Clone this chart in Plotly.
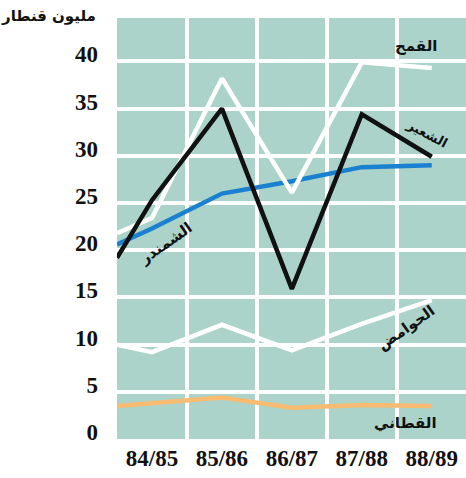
import plotly.graph_objects as go

categories = ["84/85", "85/86", "86/87", "87/88", "88/89"]
# first value in each series = value where the line enters at the left edge
wheat = [21.8, 23.4, 38.2, 26.1, 39.9, 39.3]
barley = [19.2, 25.3, 35.0, 15.9, 34.4, 29.9]
beet = [20.6, 22.3, 26.0, 27.3, 28.8, 29.0]
citrus = [10.0, 9.2, 12.1, 9.4, 12.2, 14.7]
pulses = [3.5, 3.8, 4.4, 3.3, 3.6, 3.5]
y_ticks = [0, 5, 10, 15, 20, 25, 30, 35, 40]

x_pos = [-0.5] + list(range(len(categories)))
boundaries = [i - 0.5 for i in range(len(categories))]

fig = go.Figure()
series = [
    (pulses, "#f7bb72", 4.5, "القطاني"),
    (citrus, "#ffffff", 4.5, "الحوامض"),
    (beet, "#1a80d0", 4.5, "الشمندر"),
    (wheat, "#ffffff", 4.5, "القمح"),
    (barley, "#111111", 4.5, "الشعير"),
]
for vals, color, w, name in series:
    fig.add_trace(go.Scatter(x=x_pos, y=vals, mode="lines", name=name,
                             line=dict(color=color, width=w), cliponaxis=True,
                             hoverinfo="skip"))

labels = [
    ("القمح", 3.77, 41.6, 0, 15),
    ("الشعير", 3.93, 32.4, 28, 13),
    ("الشمندر", 0.2, 20.8, -35, 15),
    ("الحوامض", 3.63, 11.8, -35, 15),
    ("القطاني", 3.62, 1.7, 0, 15),
]
for text, x, y, ang, sz in labels:
    fig.add_annotation(x=x, y=y, xref="x", yref="y", text="<b>%s</b>" % text,
                       showarrow=False, textangle=ang,
                       font=dict(family="DejaVu Sans", size=sz, color="#111111"),
                       xanchor="center", yanchor="middle")

fig.add_annotation(x=-0.054, y=1.005, xref="paper", yref="paper",
                   text="<b>مليون قنطار</b>", showarrow=False,
                   xanchor="right", yanchor="middle",
                   font=dict(family="DejaVu Sans", size=15, color="#111111"))

tick_font = dict(family="Liberation Serif", size=23, color="#111111")
fig.update_layout(
    width=466, height=478,
    margin=dict(l=117, r=0, t=18, b=39, autoexpand=False),
    paper_bgcolor="white", plot_bgcolor="#abd3c9",
    showlegend=False,
    xaxis=dict(range=[-0.5, 4.49], tickmode="array", tickvals=list(range(len(categories))),
               ticktext=["<b>%s</b>" % c for c in categories], tickfont=tick_font,
               showgrid=False, zeroline=False, showline=False, automargin=False,
               ticks="", ticklabelstandoff=3,
               minor=dict(tickmode="array", tickvals=boundaries, showgrid=True,
                          gridcolor="white", gridwidth=3.5)),
    yaxis=dict(range=[0, 44.6], tickmode="array", tickvals=y_ticks,
               ticktext=["<b>%d</b>" % v for v in y_ticks], tickfont=tick_font,
               showgrid=True, gridcolor="white", gridwidth=3.5,
               zeroline=False, showline=False, ticks="", automargin=False,
               ticklabelstandoff=18, ticklabelshift=-7),
)

fig.write_html("out.html", config={"displayModeBar": False},
               post_script="document.body.style.margin='0';document.body.style.overflow='hidden';")
